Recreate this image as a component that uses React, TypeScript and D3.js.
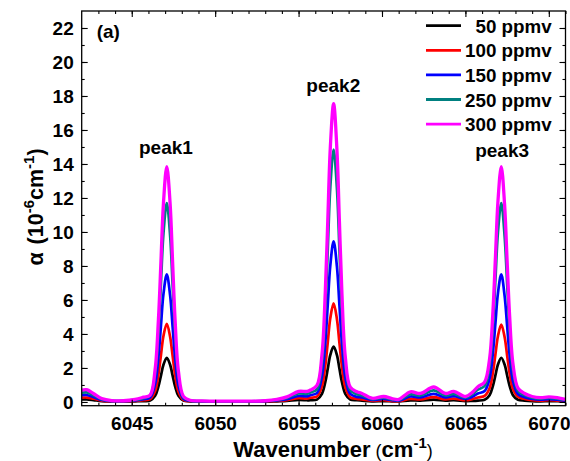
import React, { useEffect, useRef } from "react";
import * as d3 from "d3";

// wavenumber grid (cm-1), denser around the three absorption peaks
const wavenumber = [
  6042.0, 6042.3, 6042.7, 6043.2, 6043.8, 6044.5, 6045.2,
  6045.7, 6046.1, 6046.4, 6046.6, 6046.75, 6046.9, 6047.1, 6047.3, 6047.45, 6047.6, 6047.8, 6048.1, 6048.5,
  6049.2, 6050.0, 6051.0, 6052.0, 6053.0, 6053.7, 6054.3, 6055.0, 6055.5,
  6055.7, 6056.1, 6056.4, 6056.6, 6056.75, 6056.9, 6057.1, 6057.3, 6057.45, 6057.6, 6057.8, 6058.1, 6058.5,
  6058.8, 6059.4, 6060.1, 6060.6, 6061.0, 6061.7, 6062.3, 6063.1, 6063.8, 6064.3, 6065.0, 6065.4,
  6065.75, 6066.15, 6066.45, 6066.65, 6066.8, 6066.95, 6067.15, 6067.35, 6067.5, 6067.65, 6067.85, 6068.15, 6068.55,
  6069.0, 6069.5, 6070.0, 6070.5, 6071.0,
];

// absorption coefficient, 10^-6 cm^-1
const ppmv50 = [
  0.15, 0.15, 0.11, 0.05, 0.03, 0.03, 0.04,
  0.05, 0.08, 0.36, 0.91, 1.55, 2.19, 2.6, 2.19, 1.55, 0.91, 0.36, 0.08, 0.04,
  0.02, 0.02, 0.02, 0.02, 0.02, 0.04, 0.06, 0.12, 0.1,
  0.1, 0.14, 0.48, 1.16, 1.95, 2.75, 3.25, 2.75, 1.95, 1.16, 0.48, 0.14, 0.1,
  0.08, 0.04, 0.05, 0.04, 0.03, 0.09, 0.08, 0.14, 0.08, 0.1, 0.05, 0.06,
  0.08, 0.13, 0.4, 0.95, 1.57, 2.2, 2.6, 2.2, 1.57, 0.95, 0.4, 0.13, 0.08,
  0.05, 0.04, 0.05, 0.05, 0.04,
];
const ppmv100 = [
  0.25, 0.26, 0.19, 0.08, 0.04, 0.04, 0.06,
  0.1, 0.16, 0.64, 1.62, 2.75, 3.88, 4.6, 3.84, 2.71, 1.58, 0.6, 0.12, 0.04,
  0.03, 0.02, 0.02, 0.02, 0.03, 0.06, 0.11, 0.22, 0.2,
  0.25, 0.32, 0.92, 2.13, 3.51, 4.92, 5.8, 4.87, 3.46, 2.08, 0.87, 0.27, 0.18,
  0.15, 0.07, 0.1, 0.06, 0.05, 0.18, 0.15, 0.28, 0.15, 0.2, 0.1, 0.16,
  0.26, 0.36, 0.81, 1.74, 2.8, 3.87, 4.55, 3.82, 2.75, 1.69, 0.76, 0.31, 0.18,
  0.1, 0.08, 0.1, 0.08, 0.05,
];
const ppmv150 = [
  0.4, 0.41, 0.29, 0.12, 0.05, 0.05, 0.09,
  0.16, 0.26, 1.04, 2.64, 4.48, 6.34, 7.5, 6.27, 4.41, 2.57, 0.97, 0.19, 0.06,
  0.04, 0.03, 0.03, 0.03, 0.05, 0.09, 0.17, 0.35, 0.33,
  0.4, 0.52, 1.49, 3.46, 5.72, 8.01, 9.45, 7.96, 5.67, 3.41, 1.44, 0.47, 0.3,
  0.27, 0.12, 0.18, 0.11, 0.08, 0.32, 0.27, 0.48, 0.27, 0.34, 0.18, 0.3,
  0.5, 0.64, 1.38, 2.9, 4.64, 6.39, 7.5, 6.24, 4.49, 2.75, 1.23, 0.47, 0.28,
  0.18, 0.14, 0.17, 0.14, 0.08,
];
const ppmv250 = [
  0.55, 0.56, 0.4, 0.16, 0.06, 0.06, 0.12,
  0.22, 0.37, 1.6, 4.11, 6.98, 9.89, 11.7, 9.79, 6.88, 4.01, 1.5, 0.27, 0.08,
  0.05, 0.04, 0.04, 0.04, 0.06, 0.12, 0.24, 0.5, 0.48,
  0.55, 0.74, 2.27, 5.38, 8.96, 12.58, 14.85, 12.53, 8.91, 5.33, 2.22, 0.69, 0.45,
  0.38, 0.17, 0.25, 0.15, 0.12, 0.45, 0.38, 0.68, 0.38, 0.48, 0.26, 0.45,
  0.72, 0.94, 2.11, 4.48, 7.19, 9.96, 11.7, 9.76, 6.99, 4.25, 1.86, 0.66, 0.4,
  0.25, 0.2, 0.24, 0.2, 0.12,
];
const ppmv300 = [
  0.7, 0.72, 0.5, 0.2, 0.08, 0.07, 0.15,
  0.28, 0.4, 1.91, 4.87, 8.26, 11.69, 13.85, 11.67, 8.21, 4.78, 1.79, 0.33, 0.1,
  0.06, 0.05, 0.05, 0.05, 0.07, 0.15, 0.3, 0.62, 0.62,
  0.7, 0.97, 2.77, 6.45, 10.66, 14.92, 17.55, 14.82, 10.56, 6.35, 2.67, 0.87, 0.6,
  0.5, 0.22, 0.32, 0.2, 0.15, 0.6, 0.5, 0.88, 0.5, 0.62, 0.32, 0.55,
  0.9, 1.17, 2.55, 5.33, 8.51, 11.79, 13.85, 11.59, 8.31, 5.08, 2.25, 0.82, 0.5,
  0.32, 0.25, 0.3, 0.25, 0.15,
];

const seriesLabels = ["50 ppmv", "100 ppmv", "150 ppmv", "250 ppmv", "300 ppmv"];
const seriesValues = [ppmv50, ppmv100, ppmv150, ppmv250, ppmv300];
const seriesColors = ["#000000", "#ff0000", "#0000ff", "#008080", "#ff00ff"];

const xTicks = [6045, 6050, 6055, 6060, 6065, 6070];
const yTicks = [0, 2, 4, 6, 8, 10, 12, 14, 16, 18, 20, 22];

const peakNames = ["peak1", "peak2", "peak3"];
const peakCenters = [6047.05, 6057.08, 6067.2];

const width = 570;
const height = 461;
const margin = { top: 11, right: 4.5, bottom: 55.3, left: 81.7 };
const innerWidth = width - margin.left - margin.right;
const innerHeight = height - margin.top - margin.bottom;
const font = "'Liberation Sans', Arial, sans-serif";

const App: React.FC = () => {
  const gRef = useRef<SVGGElement | null>(null);

  const x = d3.scaleLinear().domain([6042, 6071]).range([0, innerWidth]);
  const y = d3.scaleLinear().domain([-0.22, 23]).range([innerHeight, 0]);

  const line = d3
    .line<number>()
    .x((_, i) => x(wavenumber[i]))
    .y((d) => y(d))
    .curve(d3.curveCatmullRom.alpha(0.5));

  useEffect(() => {
    const g = d3.select(gRef.current);
    g.selectAll(".axis").remove();

    const xMinor = d3.range(6043, 6072, 1);
    const yMinor = d3.range(1, 23, 1);

    const addAxis = (axis: d3.Axis<d3.NumberValue>, tx: number, ty: number) => {
      const a = g
        .append("g")
        .attr("class", "axis")
        .attr("transform", `translate(${tx},${ty})`)
        .call(axis);
      a.select(".domain").remove();
      a.selectAll("line").attr("stroke", "#000").attr("stroke-width", 1.1);
      a.selectAll("text")
        .attr("fill", "#000")
        .style("font-family", font)
        .style("font-weight", "bold")
        .style("font-size", "19px");
      return a;
    };

    // bottom
    addAxis(d3.axisBottom(x).tickValues(xMinor).tickSize(-3).tickFormat(() => ""), 0, innerHeight);
    addAxis(
      d3.axisBottom(x).tickValues(xTicks).tickSizeInner(-6).tickSizeOuter(0).tickPadding(11).tickFormat(d3.format("d")),
      0,
      innerHeight
    );
    // top
    addAxis(d3.axisTop(x).tickValues(xMinor).tickSize(-3).tickFormat(() => ""), 0, 0);
    addAxis(d3.axisTop(x).tickValues(xTicks).tickSize(-6).tickFormat(() => ""), 0, 0);
    // left
    addAxis(d3.axisLeft(y).tickValues(yMinor).tickSize(-3).tickFormat(() => ""), 0, 0);
    addAxis(
      d3.axisLeft(y).tickValues(yTicks).tickSizeInner(-6).tickSizeOuter(0).tickPadding(8).tickFormat(d3.format("d")),
      0,
      0
    );
    // right
    addAxis(d3.axisRight(y).tickValues(yMinor).tickSize(-3).tickFormat(() => ""), innerWidth, 0);
    addAxis(d3.axisRight(y).tickValues(yTicks).tickSize(-6).tickFormat(() => ""), innerWidth, 0);
  }, []);

  const legendRow = 24.6;

  return (
    <svg
      width={width}
      height={height}
      style={{ position: "absolute", left: 0, top: 0, background: "#fff" }}
      fontFamily={font}
    >
      <rect width={width} height={height} fill="#fff" />
      <g transform={`translate(${margin.left},${margin.top})`}>
        <defs>
          <clipPath id="plot-clip">
            <rect width={innerWidth} height={innerHeight} />
          </clipPath>
        </defs>
        <g clipPath="url(#plot-clip)">
          {seriesValues.map((vals, i) => (
            <path
              key={seriesLabels[i]}
              d={line(vals) ?? ""}
              fill="none"
              stroke={seriesColors[i]}
              strokeWidth={i === 4 ? 3.3 : 2.7}
              strokeLinejoin="round"
            />
          ))}
        </g>
        <g ref={gRef} />
        <rect width={innerWidth} height={innerHeight} fill="none" stroke="#000" strokeWidth={1.3} />

        <text x={15} y={27} fontSize={19} fontWeight="bold">(a)</text>

        {peakNames.map((name, i) => (
          <text
            key={name}
            x={x(peakCenters[i])}
            y={[143, 81, 146][i]}
            textAnchor="middle"
            fontSize={19}
            fontWeight="bold"
          >
            {name}
          </text>
        ))}

        {seriesLabels.map((label, i) => (
          <g key={label} transform={`translate(0,${14.7 + i * legendRow})`}>
            <line x1={344.3} x2={379.3} y1={0} y2={0} stroke={seriesColors[i]} strokeWidth={2.8} />
            <text x={470} y={7} textAnchor="end" fontSize={18.8} fontWeight="bold">
              {label}
            </text>
          </g>
        ))}
      </g>

      {/* axis titles */}
      <text x={333} y={457} textAnchor="middle" fontWeight="bold" fontSize={22}>
        Wavenumber
        <tspan fontWeight="normal" fontSize={18}> (</tspan>
        <tspan>cm</tspan>
        <tspan fontSize={15} dy={-9}>-1</tspan>
        <tspan fontWeight="normal" fontSize={18} dy={9}>)</tspan>
      </text>
      <text
        transform="translate(43,207) rotate(-90)"
        textAnchor="middle"
        fontWeight="bold"
        fontSize={21.5}
      >
        α
        <tspan dx={8}>(10</tspan>
        <tspan fontSize={15} dy={-9}>-6</tspan>
        <tspan dy={9}>cm</tspan>
        <tspan fontSize={15} dy={-9}>-1</tspan>
        <tspan dy={9}>)</tspan>
      </text>
    </svg>
  );
};

export default App;
